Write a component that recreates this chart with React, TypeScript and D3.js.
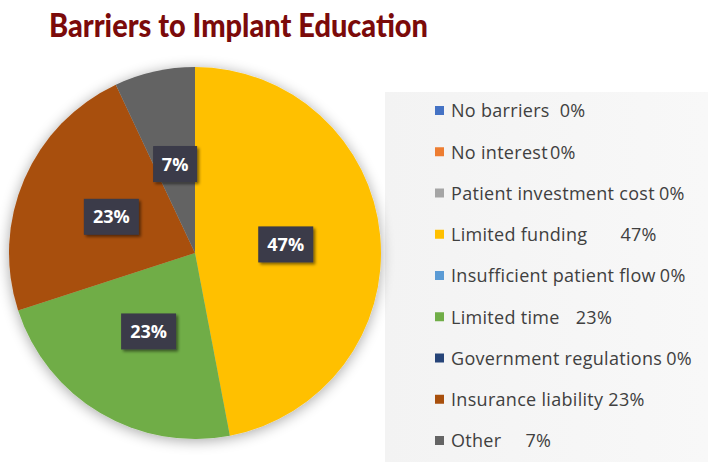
import { useMemo } from "react";
import * as d3 from "d3";

const W = 708;
const H = 462;

const TITLE = "Barriers to Implant Education";

// legend entries, in Excel order
const CATEGORIES = [
  "No barriers",
  "No interest",
  "Patient investment cost",
  "Limited funding",
  "Insufficient patient flow",
  "Limited time",
  "Government regulations",
  "Insurance liability",
  "Other",
];
const VALUES = [0, 0, 0, 47, 0, 23, 0, 23, 7];
const COLORS = [
  "#4472C4",
  "#ED7D31",
  "#A5A5A5",
  "#FFC000",
  "#5B9BD5",
  "#70AD47",
  "#264478",
  "#A84F0C",
  "#646464",
];
// uneven gap between name and percent in the original legend (px)
const LEGEND_GAP = [10, 2, 4, 33, 4, 16, 4, 5, 24];

const CX = 195;
const CY = 253;
const R = 186;

const FONT = '"Open Sans", "Noto Sans", sans-serif';

export default function App() {
  const slices = useMemo(() => {
    const rows = CATEGORIES.map((name, i) => ({ name, value: VALUES[i], color: COLORS[i] }));
    return d3
      .pie<any>()
      .sort(null)
      .value((d) => d.value)(rows)
      .filter((s) => s.data.value > 0);
  }, []);

  const arc = d3.arc<any>().innerRadius(0).outerRadius(R);
  const labelArc = d3.arc<any>().innerRadius(R * 0.49).outerRadius(R * 0.49);

  const legendY = d3
    .scalePoint<number>()
    .domain(d3.range(CATEGORIES.length))
    .range([111, 441]);

  return (
    <svg
      width={W}
      height={H}
      viewBox={`0 0 ${W} ${H}`}
      style={{ position: "absolute", left: 0, top: 0, background: "#fff" }}
    >
      <defs>
        <filter id="pieShadow" x="-20%" y="-20%" width="140%" height="140%">
          <feGaussianBlur in="SourceAlpha" stdDeviation="7" />
          <feOffset dx="0" dy="2" result="b" />
          <feComponentTransfer>
            <feFuncA type="linear" slope="0.35" />
          </feComponentTransfer>
          <feMerge>
            <feMergeNode />
            <feMergeNode in="SourceGraphic" />
          </feMerge>
        </filter>
        <filter id="boxShadow" x="-30%" y="-30%" width="160%" height="160%">
          <feGaussianBlur in="SourceAlpha" stdDeviation="1.5" />
          <feOffset dx="2" dy="2" />
          <feComponentTransfer>
            <feFuncA type="linear" slope="0.5" />
          </feComponentTransfer>
          <feMerge>
            <feMergeNode />
            <feMergeNode in="SourceGraphic" />
          </feMerge>
        </filter>
        <linearGradient id="legendBg" x1="0" y1="0" x2="1" y2="0">
          <stop offset="0" stopColor="#f3f3f3" />
          <stop offset="1" stopColor="#f8f8f8" />
        </linearGradient>
      </defs>

      <text
        x={49}
        y={37}
        fill="#7B0A0A"
        fontFamily='Lato, "Open Sans", sans-serif'
        fontWeight={900}
        fontSize={32}
        textLength={379}
        lengthAdjust="spacingAndGlyphs"
      >
        {TITLE}
      </text>

      <rect x={385} y={92} width={W - 385} height={H - 92} fill="url(#legendBg)" />

      <g transform={`translate(${CX},${CY})`}>
        <g filter="url(#pieShadow)">
          {slices.map((s) => (
            <path key={s.data.name} d={arc(s) || ""} fill={s.data.color} />
          ))}
        </g>
        {slices.map((s) => {
          const [lx, ly] = labelArc.centroid(s);
          const bw = s.data.value < 10 ? 44 : 55;
          return (
            <g key={s.data.name + "-lbl"} transform={`translate(${lx},${ly})`}>
              <rect
                x={-bw / 2}
                y={-18}
                width={bw}
                height={36}
                fill="#3a3a48"
                filter="url(#boxShadow)"
              />
              <text
                textAnchor="middle"
                dy="0.36em"
                fill="#ffffff"
                fontFamily={FONT}
                fontWeight={700}
                fontSize={18}
              >
                {`${s.data.value}%`}
              </text>
            </g>
          );
        })}
      </g>

      <g>
        {CATEGORIES.map((name, i) => {
          const y = legendY(i) as number;
          return (
            <g key={name} transform={`translate(435,${y})`}>
              <rect x={0} y={-5} width={9} height={9} fill={COLORS[i]} />
              <text
                x={16}
                dy="0.35em"
                fill="#404040"
                fontFamily={FONT}
                fontSize={18}
                letterSpacing={0.3}
              >
                {name}
                <tspan dx={LEGEND_GAP[i]}>{`${VALUES[i]}%`}</tspan>
              </text>
            </g>
          );
        })}
      </g>
    </svg>
  );
}
